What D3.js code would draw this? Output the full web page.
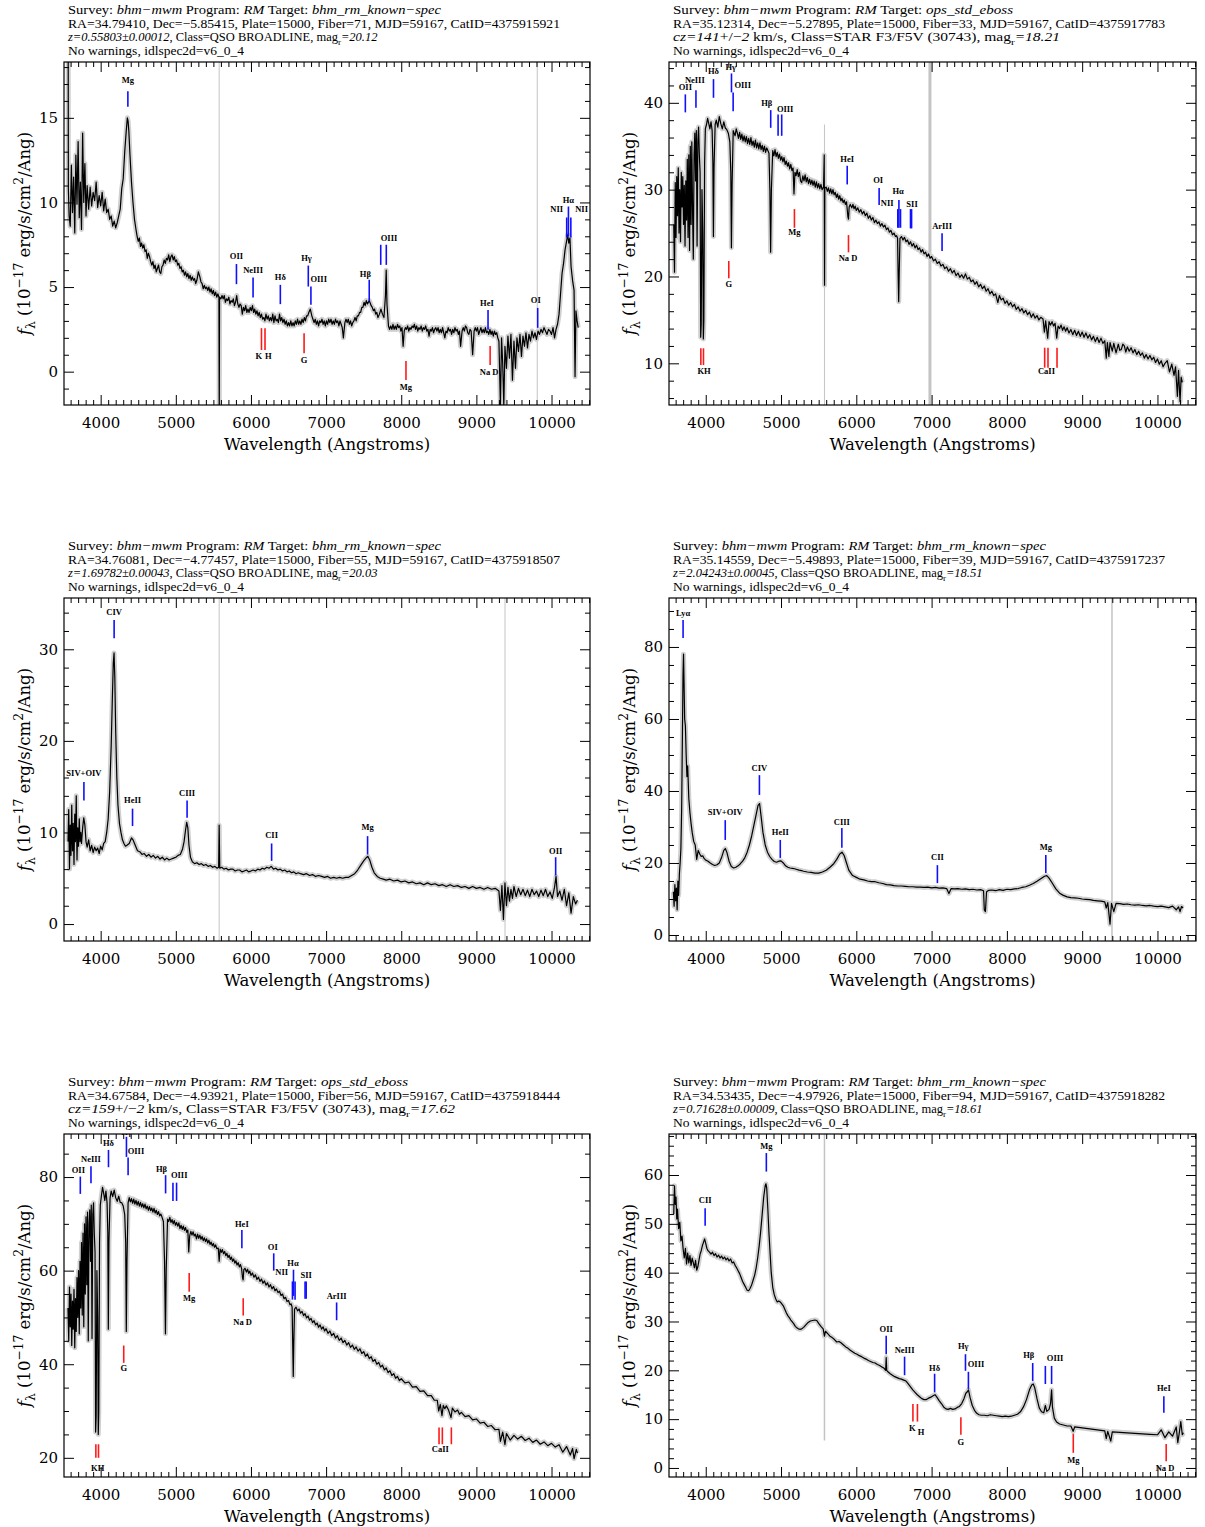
<!DOCTYPE html>
<html><head><meta charset="utf-8">
<script src="https://cdn.jsdelivr.net/npm/d3@7"></script>
<style>
body{margin:0;background:#fff;}
svg{display:block;background:#fff;}
.hdr{font-family:"Liberation Serif",serif;font-size:12.5px;fill:#000;}
.lbl{font-family:"Liberation Serif",serif;font-size:8.5px;font-weight:bold;fill:#000;}
.ax{font-family:"DejaVu Serif",serif;font-size:16.5px;fill:#000;}
</style></head><body>
<svg id="c" width="1205" height="1527"></svg>
<script>
// ---------------- DATA ----------------
const xDomain = [3512, 10512];
const xMajor = [4000, 5000, 6000, 7000, 8000, 9000, 10000];

// Panel 1: QSO z=0.558
const spec1 = [[3566,25],[3570,10.8],[3580,9.2],[3595,8.6],[3610,12.2],[3625,9.4],[3640,11.5],[3655,8.2],[3670,12.8],[3685,9.9],[3700,13.6],[3715,9.1],[3730,11.2],[3745,8.4],[3760,14.1],[3775,10.0],[3790,12.3],[3805,9.2],[3820,11.0],[3840,9.6],[3860,10.9],[3880,9.8],[3900,10.6],[3920,10.1],[3940,11.2],[3960,9.7],[3980,10.4],[4000,9.8],[4020,10.6],[4040,9.5],[4060,10.2],[4080,9.4],[4100,9.6],[4120,9.0],[4140,9.2],[4160,8.6],[4180,8.9],[4200,8.5],[4220,8.8],[4240,9.2],[4260,9.6],[4280,10.8],[4300,11.4],[4320,13.0],[4340,14.2],[4355,15.0],[4365,14.8],[4375,14.2],[4390,12.8],[4410,11.2],[4430,10.0],[4450,9.0],[4470,8.4],[4485,8.0],[4500,7.7],[4515,7.9],[4530,7.4],[4545,7.6],[4560,7.3],[4575,7.5],[4590,7.1],[4605,7.2],[4620,6.7],[4635,7.0],[4650,6.8],[4665,6.5],[4680,6.3],[4695,6.5],[4710,6.1],[4725,6.3],[4740,5.9],[4755,6.1],[4770,6.3],[4785,5.9],[4800,5.8],[4815,6.2],[4830,6.3],[4845,6.6],[4860,6.4],[4875,6.7],[4890,6.6],[4905,6.9],[4920,6.5],[4935,6.8],[4950,6.9],[4965,6.6],[4980,6.8],[4995,6.5],[5010,6.6],[5025,6.3],[5040,6.4],[5055,6.1],[5070,6.2],[5085,5.9],[5100,6.0],[5115,5.7],[5130,5.9],[5145,5.6],[5160,5.8],[5175,5.5],[5190,5.7],[5205,5.4],[5220,5.6],[5235,5.4],[5250,5.5],[5265,5.2],[5280,5.4],[5300,5.9],[5320,5.6],[5335,5.3],[5350,5.2],[5365,4.9],[5380,5.1],[5395,4.9],[5410,5.0],[5425,4.8],[5440,5.0],[5455,4.7],[5470,4.9],[5485,4.6],[5500,4.8],[5515,4.5],[5530,4.7],[5545,4.4],[5560,4.6],[5574,4.4],[5578,-2.5],[5582,4.4],[5600,4.3],[5615,4.5],[5630,4.3],[5645,4.5],[5660,4.1],[5675,4.3],[5690,4.2],[5705,4.4],[5720,4.0],[5735,4.2],[5750,4.1],[5765,4.3],[5780,3.9],[5795,4.1],[5810,4.5],[5825,4.0],[5840,3.8],[5855,4.0],[5870,3.9],[5885,3.4],[5900,3.8],[5915,3.6],[5930,3.9],[5945,3.5],[5960,3.7],[5975,3.5],[5990,3.8],[6005,3.6],[6020,3.9],[6035,3.5],[6050,3.7],[6065,3.4],[6080,3.6],[6095,3.3],[6110,3.5],[6125,3.2],[6140,3.4],[6155,3.1],[6170,3.2],[6185,3.0],[6200,3.4],[6215,3.1],[6230,3.3],[6245,3.0],[6260,3.2],[6275,3.0],[6290,3.4],[6305,2.9],[6320,3.3],[6335,3.0],[6350,3.1],[6365,2.9],[6380,3.4],[6395,3.0],[6410,3.2],[6425,2.9],[6440,3.1],[6455,2.8],[6470,3.0],[6485,2.7],[6500,2.9],[6515,2.7],[6530,3.0],[6545,2.7],[6560,2.9],[6575,2.7],[6590,3.0],[6605,2.8],[6620,3.1],[6635,2.8],[6650,3.0],[6665,2.8],[6680,3.1],[6695,2.9],[6710,3.2],[6725,3.0],[6740,3.3],[6755,3.3],[6770,3.5],[6790,3.7],[6810,3.3],[6825,3.1],[6840,2.9],[6855,3.1],[6870,2.8],[6885,3.0],[6900,2.7],[6915,3.0],[6930,2.9],[6945,3.1],[6960,2.8],[6975,3.0],[6990,2.7],[7005,3.0],[7020,2.8],[7035,3.1],[7050,2.9],[7065,3.1],[7080,2.8],[7095,3.0],[7110,2.8],[7125,3.1],[7140,2.9],[7155,3.0],[7170,2.7],[7185,3.0],[7200,2.8],[7215,2.6],[7230,2.0],[7250,2.9],[7265,3.1],[7280,2.9],[7295,3.1],[7310,2.8],[7325,3.0],[7340,2.7],[7355,2.9],[7370,3.0],[7385,3.2],[7400,3.0],[7415,3.3],[7430,3.3],[7445,3.5],[7460,3.5],[7475,3.8],[7490,3.8],[7505,4.1],[7520,3.9],[7535,4.2],[7550,4.0],[7575,4.2],[7600,3.9],[7615,3.8],[7630,3.6],[7645,3.7],[7660,3.4],[7675,3.5],[7690,3.2],[7710,3.4],[7730,3.7],[7750,3.4],[7770,3.2],[7790,4.5],[7800,6.0],[7810,4.0],[7830,2.7],[7845,2.5],[7860,2.7],[7875,2.5],[7890,2.8],[7905,2.5],[7920,2.7],[7935,2.5],[7950,2.8],[7965,2.6],[7980,2.7],[7995,2.4],[8010,2.6],[8025,1.5],[8040,2.4],[8055,2.6],[8070,2.5],[8085,2.7],[8100,2.4],[8115,2.6],[8130,2.5],[8145,2.7],[8160,2.6],[8175,2.8],[8190,2.5],[8205,2.7],[8220,2.4],[8235,2.6],[8250,2.5],[8265,2.7],[8280,2.4],[8295,2.6],[8310,2.5],[8325,2.7],[8340,2.4],[8355,2.5],[8370,2.1],[8385,2.5],[8400,2.4],[8415,2.6],[8430,2.3],[8445,2.5],[8460,2.6],[8475,2.4],[8490,2.6],[8505,2.3],[8520,2.5],[8535,2.3],[8550,2.6],[8565,2.3],[8580,2.0],[8595,2.4],[8610,2.3],[8625,2.6],[8640,2.4],[8655,2.5],[8670,2.2],[8685,2.5],[8700,2.3],[8715,2.6],[8730,2.4],[8745,2.5],[8760,2.2],[8775,2.4],[8790,1.5],[8810,2.4],[8825,2.6],[8840,2.4],[8855,2.7],[8870,2.6],[8885,2.3],[8900,2.2],[8915,2.5],[8930,2.4],[8950,1.0],[8970,2.4],[8985,2.6],[9000,2.4],[9015,2.6],[9030,2.2],[9045,2.4],[9060,2.6],[9075,2.3],[9090,2.5],[9105,2.3],[9120,2.6],[9135,2.3],[9150,2.4],[9165,2.2],[9180,2.5],[9195,2.2],[9210,2.4],[9225,2.1],[9240,2.4],[9255,2.2],[9270,2.3],[9285,2.0],[9300,1.8],[9320,-2.0],[9335,2.0],[9350,0.5],[9365,-2.0],[9380,1.5],[9400,0.2],[9420,2.1],[9440,0.8],[9460,2.2],[9480,-0.5],[9500,1.8],[9520,0.2],[9540,2.0],[9560,1.2],[9580,2.2],[9600,0.9],[9620,2.1],[9640,1.5],[9660,2.3],[9680,1.4],[9700,2.2],[9720,1.8],[9740,2.4],[9760,2.0],[9780,2.3],[9800,1.9],[9820,2.4],[9840,2.2],[9860,2.5],[9880,2.3],[9900,2.6],[9920,2.4],[9940,2.2],[9960,2.5],[9980,2.4],[10000,2.2],[10020,2.6],[10040,2.0],[10060,2.5],[10080,2.8],[10100,3.4],[10120,4.6],[10140,5.8],[10160,6.4],[10180,7.2],[10200,7.7],[10215,8.1],[10230,7.6],[10245,7.9],[10260,6.2],[10280,5.4],[10300,4.8],[10313,-0.3],[10325,3.6],[10340,3.0],[10355,2.6]];
const lines1 = [["Mg",4362,16.57,15.66,4362,17.08,"e"],["OII",5807,6.36,5.17,5807,6.67,"e"],["NeIII",6028,5.56,4.38,6028,5.82,"e"],["Hδ",6391,5.13,3.99,6391,5.43,"e"],["Hγ",6763,6.27,5.03,6740,6.55,"e"],["OIII",6798,5.03,3.95,6902,5.27,"e"],["Hβ",7574,5.43,4.18,7522,5.62,"e"],["",7727,7.5,6.31,0,0,"e"],["OIII",7801,7.5,6.31,7837,7.75,"e"],["HeI",9155,3.65,2.47,9140,3.91,"e"],["OI",9816,3.77,2.59,9790,4.07,"e"],["NII",10202,9.11,7.93,10068,9.45,"e"],["Hα",10225,9.76,7.99,10225,9.98,"e"],["NII",10257,9.11,7.93,10400,9.45,"e"],["K",6140,2.57,1.28,6106,0.75,"a"],["H",6187,2.57,1.28,6231,0.75,"a"],["G",6707,2.27,1.09,6707,0.5,"a"],["Mg",8063,0.63,-0.49,8063,-1.08,"a"],["Na D",9183,1.52,0.4,9170,-0.2,"a"]];
const sky1 = [[5577,-2,18.3,1],[9810,-2,18.3,1]];
const yDom1 = [-1.97, 18.3], yTicks1 = [0,5,10,15], yMinor1 = 1;

// Panel 2: STAR F3/F5V
const spec2 = [[3575,26.0],[3585,20.5],[3595,30.8],[3605,24.5],[3615,31.5],[3625,27.0],[3635,32.5],[3645,25.0],[3655,30.0],[3665,24.0],[3675,32.0],[3685,28.0],[3695,31.5],[3705,26.0],[3715,30.5],[3725,23.5],[3735,31.0],[3745,26.5],[3755,33.5],[3765,24.5],[3775,34.0],[3785,23.0],[3795,35.0],[3805,26.0],[3815,35.5],[3825,27.5],[3835,22.0],[3845,34.0],[3855,36.5],[3865,31.0],[3875,36.8],[3885,23.5],[3895,35.5],[3905,37.2],[3915,34.0],[3925,32.0],[3933,13.0],[3940,14.5],[3950,30.0],[3960,25.0],[3968,12.8],[3975,15.0],[3985,33.0],[3995,37.0],[4010,37.5],[4025,38.2],[4040,37.6],[4055,37.0],[4070,37.8],[4085,36.8],[4095,33.0],[4102,24.6],[4110,32.5],[4125,37.5],[4140,38.0],[4160,37.2],[4180,38.4],[4200,37.6],[4220,37.0],[4240,37.8],[4260,37.1],[4280,36.9],[4300,36.5],[4320,35.5],[4333,32.0],[4341,23.3],[4350,30.5],[4365,36.8],[4390,36.2],[4405,37.0],[4420,36.5],[4435,35.9],[4450,36.6],[4465,35.8],[4480,36.4],[4495,35.6],[4510,36.2],[4525,35.5],[4540,36.1],[4555,35.3],[4570,35.9],[4585,35.2],[4600,36.0],[4615,35.1],[4630,35.6],[4645,34.9],[4660,35.7],[4675,34.8],[4690,35.4],[4705,34.7],[4720,35.4],[4735,34.6],[4750,35.1],[4765,34.4],[4780,35.0],[4795,34.3],[4810,34.8],[4825,34.5],[4840,34.2],[4852,30.0],[4862,22.8],[4872,30.0],[4890,34.5],[4905,33.9],[4920,34.6],[4935,33.8],[4950,34.3],[4965,33.6],[4980,34.1],[4995,33.4],[5010,33.8],[5025,33.2],[5040,33.7],[5055,32.9],[5070,33.3],[5085,32.7],[5100,33.1],[5115,32.4],[5130,32.9],[5145,32.2],[5160,32.5],[5172,29.5],[5185,32.0],[5200,31.6],[5215,32.3],[5230,31.5],[5245,32.0],[5260,31.0],[5275,30.8],[5290,31.6],[5305,31.0],[5320,31.7],[5335,30.9],[5350,31.4],[5365,30.7],[5380,31.2],[5395,30.6],[5410,31.1],[5425,30.5],[5440,31.0],[5455,30.3],[5470,30.9],[5485,30.2],[5500,30.7],[5515,30.1],[5530,30.6],[5545,30.0],[5565,30.3],[5574,34.0],[5578,19.0],[5582,30.2],[5600,30.3],[5615,29.8],[5630,30.2],[5645,29.6],[5660,30.1],[5675,29.5],[5690,30.0],[5705,29.4],[5720,29.7],[5735,29.1],[5750,29.5],[5765,28.9],[5780,29.3],[5795,28.7],[5810,29.0],[5825,28.5],[5840,28.8],[5855,28.3],[5870,28.6],[5888,26.9],[5896,26.6],[5905,28.0],[5920,28.3],[5940,27.9],[5955,28.3],[5970,27.8],[5985,28.1],[6000,27.6],[6020,27.9],[6040,27.4],[6060,27.7],[6080,27.2],[6100,27.5],[6120,27.0],[6140,27.3],[6160,26.7],[6180,27.0],[6200,26.5],[6220,26.8],[6240,26.2],[6260,26.5],[6280,26.1],[6300,26.3],[6320,25.8],[6340,26.1],[6360,25.7],[6380,25.9],[6400,25.4],[6420,25.6],[6440,25.1],[6460,25.3],[6480,24.8],[6500,25.0],[6520,24.6],[6535,24.7],[6548,24.4],[6556,20.0],[6563,17.1],[6570,20.5],[6580,24.4],[6600,24.6],[6620,24.2],[6640,24.5],[6660,24.0],[6680,24.2],[6700,23.7],[6720,24.0],[6740,23.5],[6760,23.8],[6780,23.3],[6800,23.6],[6820,23.1],[6840,23.3],[6860,22.8],[6880,23.1],[6900,22.6],[6920,22.8],[6940,22.3],[6960,22.6],[6980,22.1],[7000,22.3],[7025,21.8],[7050,22.0],[7075,21.5],[7100,21.7],[7125,21.2],[7150,21.4],[7175,20.9],[7200,21.1],[7225,20.6],[7250,20.9],[7275,20.4],[7300,20.7],[7325,20.1],[7350,20.4],[7375,19.9],[7400,20.2],[7425,19.8],[7450,20.3],[7475,19.7],[7500,19.9],[7525,19.4],[7550,19.6],[7575,19.1],[7600,19.4],[7625,18.8],[7650,19.1],[7675,18.6],[7700,18.9],[7725,18.3],[7750,18.6],[7775,18.0],[7800,18.3],[7825,17.8],[7850,18.0],[7880,17.0],[7900,17.8],[7925,17.3],[7950,17.5],[7975,16.9],[8000,17.2],[8025,16.7],[8050,17.0],[8075,16.5],[8100,16.8],[8125,16.2],[8150,16.5],[8175,16.0],[8200,16.3],[8225,15.8],[8250,16.1],[8275,15.6],[8300,15.9],[8325,15.3],[8350,15.7],[8375,15.2],[8400,15.5],[8425,15.0],[8450,15.3],[8480,15.1],[8498,13.6],[8515,14.9],[8542,12.9],[8560,14.8],[8580,14.4],[8600,14.8],[8620,14.3],[8640,14.6],[8662,12.9],[8680,14.3],[8700,14.0],[8720,14.4],[8740,13.8],[8760,14.2],[8780,13.7],[8800,14.1],[8825,13.5],[8850,13.9],[8875,13.3],[8900,13.8],[8925,13.2],[8950,13.7],[8975,13.1],[9000,13.6],[9025,13.0],[9050,13.5],[9075,12.9],[9100,13.3],[9125,12.7],[9150,13.1],[9175,12.5],[9200,13.0],[9225,12.4],[9250,12.9],[9275,12.3],[9300,12.6],[9320,10.6],[9335,12.4],[9355,10.8],[9370,12.4],[9400,11.4],[9420,12.3],[9450,11.2],[9480,12.2],[9500,11.5],[9520,11.6],[9540,12.2],[9560,12.0],[9580,11.3],[9600,11.9],[9625,11.4],[9650,11.8],[9675,11.2],[9700,11.6],[9725,11.0],[9750,11.4],[9775,10.9],[9800,11.2],[9825,10.6],[9850,11.0],[9875,10.5],[9900,10.9],[9925,10.4],[9950,10.7],[9975,10.1],[10000,10.5],[10025,9.9],[10050,10.3],[10075,9.6],[10100,10.0],[10130,10.3],[10160,9.0],[10190,9.9],[10220,8.6],[10240,9.6],[10265,6.2],[10280,9.2],[10300,5.6],[10315,8.4],[10330,7.8]];
const lines2 = [["OII",3729,40.97,38.9,3729,41.46,"e"],["NeIII",3870,41.46,39.42,3855,42.3,"e"],["Hδ",4103,42.73,40.58,4103,43.27,"e"],["Hγ",4342,43.38,41.2,4333,43.76,"e"],["OIII",4364,41.2,39.04,4491,41.66,"e"],["Hβ",4863,39.16,37.12,4810,39.65,"e"],["",4961,38.66,36.2,0,0,"e"],["OIII",5009,38.66,36.2,5055,38.96,"e"],["HeI",5879,32.75,30.6,5879,33.2,"e"],["OI",6303,30.2,28.22,6290,30.72,"e"],["NII",6551,27.76,25.61,6411,28.14,"e"],["Hα",6566,28.8,25.61,6555,29.46,"e"],["",6587,27.76,25.61,0,0,"e"],["SII",6720,27.76,25.54,6740,28.03,"e"],["",6734,27.76,25.54,0,0,"e"],["ArIII",7139,24.97,22.93,7139,25.46,"e"],["",3935,11.73,9.8,0,0,"a"],["KH",3970,11.73,9.8,3978,8.73,"a"],["G",4306,21.78,19.79,4306,18.82,"a"],["Mg",5178,27.76,25.61,5178,24.77,"a"],["Na D",5896,24.77,22.78,5890,21.78,"a"],["",8502,11.8,9.5,0,0,"a"],["CaII",8546,11.8,9.5,8526,8.73,"a"],["",8666,11.8,9.5,0,0,"a"]];
const sky2 = [[5577,37.5,5.2,1],[6978,5.2,44.7,3]];
const yDom2 = [5.2, 44.7], yTicks2 = [10,20,30,40], yMinor2 = 2;

// Panel 3: QSO z=1.698
const spec3 = [[3565,9.0],[3575,12.5],[3585,6.0],[3595,10.8],[3605,7.5],[3615,13.0],[3625,8.0],[3635,11.0],[3645,6.5],[3655,12.0],[3665,9.0],[3675,14.0],[3685,7.0],[3695,10.5],[3705,8.5],[3715,11.5],[3725,9.0],[3735,10.0],[3745,8.8],[3760,10.5],[3775,11.6],[3790,10.8],[3805,9.0],[3820,8.4],[3840,9.2],[3860,8.0],[3880,8.6],[3900,7.8],[3920,8.4],[3940,8.0],[3960,8.3],[3980,7.7],[4000,8.5],[4020,8.1],[4040,8.8],[4060,9.0],[4080,10.0],[4100,11.5],[4120,14.5],[4140,19.5],[4155,24.5],[4168,28.5],[4178,29.6],[4188,27.0],[4200,21.0],[4215,16.0],[4230,13.0],[4250,11.0],[4270,10.0],[4290,9.2],[4310,8.8],[4330,8.5],[4350,8.6],[4380,8.8],[4410,9.4],[4430,9.2],[4460,8.6],[4490,8.0],[4520,7.9],[4550,7.6],[4580,7.7],[4610,7.4],[4640,7.6],[4670,7.3],[4700,7.5],[4730,7.2],[4760,7.4],[4790,7.1],[4820,7.3],[4850,7.0],[4880,7.2],[4910,7.0],[4940,7.1],[4970,7.2],[5000,7.3],[5030,7.5],[5060,7.6],[5090,8.2],[5110,9.0],[5130,10.3],[5145,11.1],[5160,10.5],[5175,8.6],[5195,7.3],[5220,6.8],[5250,6.6],[5280,6.7],[5310,6.5],[5340,6.6],[5370,6.4],[5400,6.5],[5430,6.3],[5460,6.4],[5490,6.2],[5520,6.3],[5550,6.1],[5570,6.2],[5577,10.8],[5585,6.1],[5610,6.2],[5640,6.0],[5670,6.1],[5700,5.9],[5730,6.0],[5760,6.0],[5790,5.8],[5820,5.9],[5850,5.9],[5880,5.7],[5910,5.8],[5940,5.9],[5970,5.7],[6000,5.8],[6030,5.9],[6060,5.8],[6090,6.0],[6120,5.9],[6150,6.1],[6180,6.0],[6210,6.2],[6240,6.1],[6270,6.3],[6300,6.0],[6330,6.1],[6360,5.9],[6390,6.0],[6420,5.8],[6450,5.9],[6480,5.7],[6510,5.8],[6540,5.6],[6570,5.7],[6600,5.5],[6630,5.6],[6660,5.5],[6700,5.4],[6740,5.5],[6780,5.3],[6820,5.4],[6860,5.2],[6900,5.3],[6940,5.2],[6980,5.1],[7020,5.2],[7060,5.0],[7100,5.1],[7140,5.0],[7180,5.1],[7220,5.0],[7260,5.1],[7300,5.1],[7340,5.3],[7380,5.5],[7420,5.9],[7460,6.4],[7500,6.9],[7530,7.2],[7555,7.4],[7580,7.0],[7610,6.2],[7640,5.6],[7680,5.2],[7720,5.0],[7760,4.9],[7800,4.8],[7850,4.9],[7900,4.7],[7950,4.8],[8000,4.6],[8050,4.7],[8100,4.5],[8150,4.6],[8200,4.4],[8250,4.5],[8300,4.3],[8350,4.5],[8400,4.3],[8450,4.4],[8500,4.2],[8550,4.3],[8600,4.1],[8650,4.3],[8700,4.1],[8750,4.2],[8800,4.0],[8850,4.1],[8900,3.9],[8950,4.1],[9000,3.9],[9050,4.0],[9100,3.8],[9150,4.0],[9200,3.8],[9250,3.9],[9300,3.6],[9320,1.5],[9340,4.2],[9360,0.5],[9380,4.5],[9400,2.0],[9420,4.0],[9440,2.5],[9460,3.8],[9480,2.8],[9500,4.1],[9530,3.0],[9560,3.9],[9590,3.2],[9620,3.8],[9650,3.1],[9680,3.7],[9710,3.0],[9740,3.8],[9770,3.2],[9800,3.6],[9830,3.0],[9860,3.7],[9890,3.1],[9920,3.8],[9950,3.0],[9980,3.5],[10010,2.8],[10040,4.0],[10060,5.2],[10080,3.0],[10110,3.6],[10140,2.6],[10170,3.8],[10200,2.0],[10230,3.4],[10260,1.2],[10290,3.0],[10320,2.2],[10345,2.6]];
const lines3 = [["SIV+OIV",3777,15.5,13.5,3777,16.2,"e"],["CIV",4179,33.2,31.2,4179,33.7,"e"],["HeII",4424,12.6,10.7,4424,13.2,"e"],["CIII",5150,13.5,11.6,5150,14.0,"e"],["CII",6275,8.8,6.9,6275,9.4,"e"],["Mg",7552,9.6,7.6,7552,10.3,"e"],["OII",10055,7.3,5.3,10055,7.7,"e"]];
const sky3 = [[5577,-1.85,35.6,1],[9381,-1.85,35.6,1]];
const yDom3 = [-1.85, 35.6], yTicks3 = [0,10,20,30], yMinor3 = 2;

// Panel 4: QSO z=2.042
const spec4 = [[3570,12.0],[3580,8.0],[3590,14.0],[3600,9.5],[3610,13.0],[3620,7.0],[3630,15.0],[3640,11.0],[3650,17.0],[3660,20.0],[3670,24.0],[3680,35.0],[3690,55.0],[3698,72.0],[3705,78.0],[3712,70.0],[3720,60.0],[3730,58.0],[3740,50.0],[3750,44.0],[3760,47.0],[3775,38.0],[3790,34.0],[3805,31.0],[3820,28.5],[3840,26.0],[3860,25.0],[3880,21.0],[3900,23.5],[3920,22.5],[3940,21.8],[3960,22.0],[3980,21.2],[4000,20.8],[4030,20.5],[4060,20.0],[4090,19.6],[4120,19.3],[4150,19.5],[4180,20.0],[4210,21.5],[4240,23.5],[4260,24.0],[4280,23.0],[4310,20.5],[4340,19.0],[4370,18.6],[4400,18.8],[4430,19.2],[4460,19.8],[4490,20.5],[4520,21.5],[4550,23.0],[4580,25.0],[4610,27.5],[4640,30.5],[4670,33.5],[4695,36.0],[4715,36.5],[4735,33.0],[4760,28.5],[4790,25.0],[4820,23.0],[4850,21.8],[4880,21.0],[4910,20.4],[4940,20.2],[4970,20.5],[5000,20.6],[5030,20.0],[5060,19.2],[5090,18.8],[5120,18.6],[5150,18.5],[5180,18.4],[5210,18.2],[5240,18.0],[5270,17.9],[5300,17.7],[5350,17.5],[5400,17.4],[5450,17.2],[5500,17.2],[5550,17.5],[5600,18.0],[5650,18.8],[5700,19.8],[5740,21.0],[5780,22.5],[5810,23.0],[5840,22.0],[5870,20.0],[5900,18.0],[5950,16.5],[6000,16.0],[6050,15.5],[6100,15.3],[6150,15.0],[6200,14.8],[6250,14.8],[6300,14.5],[6350,14.3],[6400,14.0],[6450,13.9],[6500,13.7],[6550,13.6],[6600,13.6],[6650,13.5],[6700,13.4],[6750,13.4],[6800,13.3],[6850,13.3],[6900,13.2],[6950,13.3],[7000,13.1],[7050,13.2],[7100,13.0],[7150,13.1],[7200,12.9],[7230,11.5],[7260,12.9],[7300,12.8],[7350,12.9],[7400,12.7],[7450,12.8],[7500,12.6],[7550,12.7],[7600,12.5],[7650,12.6],[7690,12.3],[7700,7.0],[7715,6.5],[7730,12.0],[7760,12.4],[7800,12.5],[7850,12.3],[7900,12.6],[7950,12.4],[8000,12.7],[8050,12.6],[8100,12.8],[8150,12.9],[8200,13.2],[8250,13.4],[8300,13.8],[8350,14.3],[8400,14.9],[8450,15.6],[8500,16.3],[8530,16.5],[8560,15.8],[8600,14.5],[8650,12.8],[8700,11.6],[8750,11.0],[8800,10.6],[8850,10.4],[8900,10.3],[8950,10.2],[9000,10.0],[9050,9.9],[9100,9.8],[9150,9.6],[9200,9.5],[9250,9.4],[9300,9.2],[9320,7.5],[9340,9.0],[9370,3.0],[9390,8.8],[9420,6.5],[9450,8.8],[9500,8.7],[9550,8.5],[9600,8.6],[9650,8.4],[9700,8.3],[9750,8.4],[9800,8.2],[9850,8.1],[9900,8.2],[9950,8.0],[10000,7.9],[10050,8.0],[10100,7.8],[10150,7.6],[10200,8.0],[10250,7.0],[10280,7.8],[10300,6.5],[10320,7.9],[10340,7.5]];
const lines4 = [["Lyα",3699,87.5,82.5,3699,88.6,"e"],["SIV+OIV",4259,31.9,26.4,4259,33.3,"e"],["CIV",4713,44.4,38.9,4713,45.6,"e"],["HeII",4990,26.4,21.4,4990,27.8,"e"],["CIII",5808,29.7,24.2,5808,30.6,"e"],["CII",7077,19.4,14.4,7077,20.8,"e"],["Mg",8517,22.2,17.2,8517,23.6,"e"]];
const sky4 = [[9396,-1.67,93.6,1.5]];
const yDom4 = [-1.67, 93.6], yTicks4 = [0,20,40,60,80], yMinor4 = 5;

// Panel 5: STAR F3/F5V
const spec5 = [[3565,52.0],[3575,45.0],[3585,56.5],[3595,48.0],[3605,55.0],[3615,44.0],[3625,53.5],[3635,47.5],[3645,56.0],[3655,43.5],[3665,54.0],[3675,47.0],[3685,58.5],[3695,50.0],[3705,60.0],[3715,46.5],[3725,62.0],[3735,52.0],[3745,66.0],[3755,50.5],[3765,68.0],[3775,48.0],[3785,70.0],[3795,55.0],[3805,71.5],[3815,57.0],[3825,72.5],[3835,45.0],[3845,70.0],[3855,73.0],[3865,62.0],[3875,74.0],[3885,45.5],[3895,72.0],[3905,74.5],[3915,68.0],[3925,64.0],[3933,25.5],[3940,29.0],[3950,60.0],[3960,50.0],[3968,25.0],[3975,30.0],[3985,66.0],[3995,74.0],[4010,76.0],[4025,77.8],[4040,76.5],[4055,75.0],[4070,77.0],[4085,74.5],[4095,68.0],[4102,47.5],[4110,66.0],[4125,75.5],[4140,77.0],[4160,75.8],[4180,77.2],[4200,75.6],[4220,74.8],[4240,75.9],[4260,74.6],[4280,74.5],[4300,73.8],[4320,72.0],[4333,66.0],[4341,47.0],[4350,62.0],[4365,74.5],[4380,75.6],[4395,74.7],[4410,75.4],[4425,74.4],[4440,75.3],[4455,74.2],[4470,75.0],[4485,74.0],[4500,74.8],[4515,73.8],[4530,74.6],[4545,73.6],[4560,74.3],[4575,73.4],[4590,74.2],[4605,73.2],[4620,73.8],[4635,72.9],[4650,73.7],[4665,72.8],[4680,73.4],[4695,72.5],[4710,73.3],[4725,72.3],[4740,72.9],[4755,72.0],[4770,72.6],[4785,71.7],[4800,72.1],[4815,71.5],[4835,70.5],[4850,62.0],[4862,46.5],[4872,60.0],[4890,71.0],[4905,70.5],[4920,71.4],[4935,70.3],[4950,70.9],[4965,70.0],[4980,70.7],[4995,69.7],[5010,70.3],[5025,69.5],[5040,70.2],[5055,69.0],[5070,69.7],[5085,68.8],[5100,69.5],[5115,68.6],[5130,69.2],[5145,68.2],[5160,68.7],[5172,64.0],[5185,67.5],[5200,68.4],[5215,67.6],[5230,68.3],[5245,67.4],[5260,67.8],[5275,66.8],[5290,67.8],[5305,66.9],[5320,67.6],[5335,66.7],[5350,67.3],[5365,66.4],[5380,67.0],[5395,66.2],[5410,66.8],[5425,65.9],[5440,66.5],[5455,65.6],[5470,66.1],[5485,65.3],[5500,65.8],[5515,65.0],[5530,65.5],[5545,64.7],[5565,64.8],[5577,62.0],[5590,64.6],[5605,63.9],[5620,64.5],[5635,63.6],[5650,64.1],[5665,63.2],[5680,63.7],[5695,62.8],[5710,63.3],[5725,62.4],[5740,62.9],[5755,62.0],[5770,62.5],[5785,61.6],[5800,62.1],[5815,61.2],[5830,61.7],[5845,60.8],[5860,61.3],[5875,60.5],[5888,58.5],[5896,58.0],[5905,60.2],[5920,60.5],[5940,59.7],[5955,60.3],[5970,59.4],[5985,59.9],[6000,59.0],[6020,59.5],[6040,58.6],[6060,59.1],[6080,58.1],[6100,58.6],[6120,57.7],[6140,58.2],[6160,57.3],[6180,57.8],[6200,56.9],[6220,57.4],[6240,56.5],[6260,57.0],[6280,56.1],[6300,56.6],[6320,55.7],[6340,56.1],[6360,55.3],[6380,55.6],[6400,54.7],[6420,55.0],[6440,54.0],[6460,54.3],[6480,53.4],[6500,53.6],[6520,52.7],[6535,52.9],[6548,52.2],[6556,44.0],[6563,37.4],[6570,44.5],[6580,51.8],[6600,52.2],[6620,51.4],[6640,51.8],[6660,50.9],[6680,51.3],[6700,50.4],[6720,50.8],[6740,49.9],[6760,50.3],[6780,49.4],[6800,49.8],[6820,48.9],[6840,49.3],[6860,48.4],[6880,48.8],[6900,47.9],[6920,48.4],[6940,47.5],[6960,48.0],[6980,47.1],[7000,47.6],[7025,46.6],[7050,47.1],[7075,46.1],[7100,46.6],[7125,45.6],[7150,46.1],[7175,45.1],[7200,45.6],[7225,44.6],[7250,45.1],[7275,44.1],[7300,44.6],[7325,43.6],[7350,44.1],[7375,43.2],[7400,43.7],[7425,42.8],[7450,43.3],[7475,42.3],[7500,42.7],[7525,41.7],[7550,42.2],[7575,41.2],[7600,41.6],[7625,40.6],[7650,41.0],[7675,40.0],[7700,40.4],[7725,39.4],[7750,39.8],[7775,38.8],[7800,39.2],[7825,38.2],[7850,38.6],[7875,37.6],[7900,38.0],[7925,37.0],[7950,37.4],[7975,36.5],[8000,36.9],[8050,36.0],[8100,36.2],[8150,35.1],[8200,35.2],[8250,34.2],[8300,34.3],[8350,33.3],[8400,33.3],[8440,32.3],[8480,32.3],[8498,30.0],[8520,31.4],[8542,29.0],[8560,31.2],[8580,30.5],[8600,31.1],[8630,30.2],[8662,28.6],[8680,30.6],[8715,29.8],[8750,30.2],[8775,29.3],[8800,29.7],[8850,28.8],[8900,29.0],[8950,28.1],[9000,28.3],[9050,27.4],[9100,27.6],[9150,26.7],[9200,26.9],[9250,26.0],[9300,26.1],[9320,23.5],[9350,25.5],[9380,22.8],[9400,25.2],[9450,23.8],[9500,24.8],[9550,24.0],[9600,24.6],[9650,23.7],[9700,24.2],[9750,23.3],[9800,23.8],[9850,22.9],[9900,23.4],[9950,22.6],[10000,23.1],[10050,22.3],[10100,22.8],[10150,21.2],[10200,22.4],[10250,20.6],[10280,22.0],[10300,19.8],[10330,21.8],[10345,21.0]];
const lines5 = [["OII",3729,80.1,76.4,3703,80.9,"e"],["NeIII",3871,82.3,78.7,3871,83.3,"e"],["Hδ",4104,85.8,82.1,4104,86.6,"e"],["Hγ",4343,88.6,84.3,4343,89.0,"e"],["OIII",4365,84.2,80.4,4470,84.9,"e"],["Hβ",4864,80.4,76.5,4810,81.1,"e"],["",4962,78.8,74.9,0,0,"e"],["OIII",5010,78.8,74.9,5045,79.7,"e"],["HeI",5879,68.7,64.8,5879,69.4,"e"],["OI",6303,63.7,60.0,6290,64.4,"e"],["NII",6552,57.7,53.8,6409,59.1,"e"],["Hα",6566,60.2,54.6,6560,61.0,"e"],["",6587,57.7,53.8,0,0,"e"],["SII",6720,57.7,54.0,6735,58.4,"e"],["",6735,57.7,54.0,0,0,"e"],["ArIII",7140,53.2,49.4,7140,53.9,"e"],["",3936,22.9,20.0,0,0,"a"],["KH",3971,22.9,20.0,3960,17.2,"a"],["G",4307,44.0,40.3,4307,38.5,"a"],["Mg",5178,59.5,55.5,5178,53.6,"a"],["Na D",5897,54.1,50.4,5890,48.4,"a"],["",8503,26.5,22.9,0,0,"a"],["CaII",8547,26.5,22.9,8520,21.2,"a"],["",8667,26.5,22.9,0,0,"a"]];
const sky5 = [];
const yDom5 = [15.9, 89.2], yTicks5 = [20,40,60,80], yMinor5 = 5;

// Panel 6: QSO z=0.716
const spec6 = [[3575,52.0],[3585,57.8],[3595,54.0],[3605,55.5],[3615,51.0],[3625,53.0],[3640,49.0],[3655,50.3],[3670,46.5],[3685,47.5],[3700,44.8],[3715,43.0],[3730,45.0],[3745,41.8],[3760,44.0],[3775,42.0],[3790,43.5],[3805,41.5],[3820,43.0],[3835,42.0],[3850,41.0],[3865,42.5],[3880,40.5],[3895,41.2],[3910,42.5],[3925,43.8],[3940,44.5],[3955,45.5],[3970,46.2],[3985,46.9],[4000,46.0],[4015,45.0],[4030,44.5],[4050,44.2],[4070,43.8],[4090,44.2],[4110,43.5],[4130,43.9],[4150,43.2],[4170,43.6],[4190,43.0],[4210,43.4],[4230,42.8],[4250,43.2],[4270,42.6],[4290,43.0],[4310,42.4],[4330,42.8],[4350,42.0],[4370,42.2],[4390,41.5],[4410,41.0],[4430,40.4],[4450,39.8],[4470,39.0],[4490,38.2],[4510,37.6],[4530,37.0],[4550,36.4],[4570,36.3],[4590,36.8],[4610,37.5],[4630,38.5],[4650,39.5],[4670,41.0],[4690,43.0],[4710,45.5],[4730,48.5],[4750,52.0],[4770,55.5],[4790,57.8],[4800,58.2],[4810,57.3],[4825,53.0],[4840,48.0],[4855,44.0],[4870,40.0],[4890,37.0],[4910,35.5],[4930,34.6],[4950,34.0],[4970,34.2],[4990,34.0],[5010,33.6],[5030,33.2],[5050,32.5],[5070,31.8],[5090,31.2],[5110,30.8],[5130,30.3],[5150,29.9],[5170,29.5],[5190,29.0],[5210,28.7],[5230,28.5],[5250,28.4],[5275,28.5],[5300,28.8],[5330,29.3],[5360,29.8],[5390,30.1],[5420,30.2],[5450,30.3],[5475,30.2],[5500,29.6],[5530,29.0],[5560,28.5],[5577,27.0],[5590,28.0],[5620,27.5],[5650,27.0],[5680,26.7],[5710,26.3],[5740,25.8],[5770,25.9],[5800,25.6],[5830,25.2],[5860,24.8],[5890,24.5],[5920,24.1],[5950,23.8],[5980,23.5],[6010,23.3],[6040,23.0],[6070,22.8],[6100,22.5],[6130,22.3],[6160,22.0],[6190,21.8],[6220,21.6],[6250,21.5],[6280,21.2],[6310,21.0],[6340,20.7],[6370,20.4],[6390,20.0],[6397,22.6],[6404,20.0],[6420,19.7],[6450,19.3],[6480,19.0],[6510,18.7],[6540,18.5],[6570,18.3],[6600,18.2],[6630,18.0],[6660,17.8],[6690,17.2],[6720,16.6],[6750,16.0],[6780,15.5],[6810,15.0],[6840,14.6],[6870,14.2],[6900,14.0],[6930,14.0],[6960,14.3],[6990,14.5],[7020,14.8],[7045,15.0],[7070,14.5],[7100,13.8],[7130,13.2],[7160,12.5],[7190,12.1],[7220,12.0],[7250,12.2],[7280,12.0],[7310,12.1],[7340,12.4],[7370,12.6],[7400,13.2],[7430,14.2],[7455,15.3],[7475,15.6],[7490,16.0],[7510,14.5],[7540,12.8],[7570,11.8],[7600,11.2],[7630,10.9],[7660,10.8],[7700,10.8],[7740,10.7],[7780,10.9],[7820,10.8],[7860,10.7],[7900,10.6],[7940,10.5],[7980,10.6],[8020,10.5],[8060,10.6],[8100,10.8],[8140,11.0],[8180,11.5],[8220,12.5],[8260,14.0],[8300,16.0],[8330,17.0],[8350,17.2],[8370,16.4],[8400,14.2],[8430,12.3],[8460,11.5],[8490,11.3],[8511,12.8],[8530,11.6],[8560,12.0],[8580,13.2],[8594,16.0],[8605,12.5],[8630,10.2],[8660,9.4],[8700,9.0],[8750,8.8],[8800,8.6],[8850,8.6],[8880,7.5],[8900,8.4],[8950,8.3],[9000,8.2],[9100,8.0],[9200,7.8],[9300,7.6],[9320,6.0],[9340,7.5],[9380,5.5],[9400,7.4],[9500,7.3],[9600,7.2],[9700,7.1],[9800,7.0],[9900,6.9],[10000,6.8],[10050,7.8],[10100,6.2],[10150,7.4],[10200,6.5],[10250,8.4],[10270,5.2],[10290,7.2],[10310,9.5],[10330,6.8],[10345,7.2]];
const lines6 = [["CII",3992,53.2,49.6,3992,54.3,"e"],["Mg",4805,64.5,60.7,4805,65.3,"e"],["OII",6397,27.1,23.3,6397,27.9,"e"],["NeIII",6641,22.8,19.0,6641,23.6,"e"],["Hδ",7040,19.3,15.5,7040,19.9,"e"],["Hγ",7450,23.3,19.9,7420,24.4,"e"],["OIII",7489,19.7,16.2,7590,20.7,"e"],["Hβ",8343,21.5,17.8,8290,22.5,"e"],["",8511,20.9,17.2,0,0,"e"],["OIII",8594,20.9,17.2,8640,21.9,"e"],["HeI",10085,14.7,11.3,10085,15.8,"e"],["K",6752,13.1,9.5,6743,7.6,"a"],["H",6812,13.1,9.5,6859,6.8,"a"],["G",7389,10.4,6.8,7389,4.7,"a"],["Mg",8882,7.0,3.1,8882,1.0,"a"],["Na D",10116,4.9,1.4,10100,-0.6,"a"]];
const sky6 = [[5577,5.6,68.4,1.5]];
const yDom6 = [-1.85, 68.4], yTicks6 = [0,10,20,30,40,50,60], yMinor6 = 2;

// Header lines: [text, style] segments
const hdr1 = [[["Survey: ",""],["bhm−mwm","i"],[" Program: ",""],["RM","i"],[" Target: ",""],["bhm_rm_known−spec","i"]],[["RA=34.79410, Dec=−5.85415, Plate=15000, Fiber=71, MJD=59167, CatID=4375915921",""]],[["z=0.55803±0.00012","i"],[", Class=QSO BROADLINE, mag",""],["r","sub"],["=20.12","i"]],[["No warnings, idlspec2d=v6_0_4",""]]];
const hdr2 = [[["Survey: ",""],["bhm−mwm","i"],[" Program: ",""],["RM","i"],[" Target: ",""],["ops_std_eboss","i"]],[["RA=35.12314, Dec=−5.27895, Plate=15000, Fiber=33, MJD=59167, CatID=4375917783",""]],[["cz=141","i"],["+/−",""],["2","i"],[" km/s, Class=STAR F3/F5V (30743), mag",""],["r","sub"],["=18.21","i"]],[["No warnings, idlspec2d=v6_0_4",""]]];
const hdr3 = [[["Survey: ",""],["bhm−mwm","i"],[" Program: ",""],["RM","i"],[" Target: ",""],["bhm_rm_known−spec","i"]],[["RA=34.76081, Dec=−4.77457, Plate=15000, Fiber=55, MJD=59167, CatID=4375918507",""]],[["z=1.69782±0.00043","i"],[", Class=QSO BROADLINE, mag",""],["r","sub"],["=20.03","i"]],[["No warnings, idlspec2d=v6_0_4",""]]];
const hdr4 = [[["Survey: ",""],["bhm−mwm","i"],[" Program: ",""],["RM","i"],[" Target: ",""],["bhm_rm_known−spec","i"]],[["RA=35.14559, Dec=−5.49893, Plate=15000, Fiber=39, MJD=59167, CatID=4375917237",""]],[["z=2.04243±0.00045","i"],[", Class=QSO BROADLINE, mag",""],["r","sub"],["=18.51","i"]],[["No warnings, idlspec2d=v6_0_4",""]]];
const hdr5 = [[["Survey: ",""],["bhm−mwm","i"],[" Program: ",""],["RM","i"],[" Target: ",""],["ops_std_eboss","i"]],[["RA=34.67584, Dec=−4.93921, Plate=15000, Fiber=56, MJD=59167, CatID=4375918444",""]],[["cz=159","i"],["+/−",""],["2","i"],[" km/s, Class=STAR F3/F5V (30743), mag",""],["r","sub"],["=17.62","i"]],[["No warnings, idlspec2d=v6_0_4",""]]];
const hdr6 = [[["Survey: ",""],["bhm−mwm","i"],[" Program: ",""],["RM","i"],[" Target: ",""],["bhm_rm_known−spec","i"]],[["RA=34.53435, Dec=−4.97926, Plate=15000, Fiber=94, MJD=59167, CatID=4375918282",""]],[["z=0.71628±0.00009","i"],[", Class=QSO BROADLINE, mag",""],["r","sub"],["=18.61","i"]],[["No warnings, idlspec2d=v6_0_4",""]]];

const xTitle = "Wavelength (Angstroms)";
const yTitle = [["f","i"],["λ","sub"],[" (10",""],["−17","sup"],[" erg/s/cm",""],["2","sup"],["/Ang)",""]];

// ---------------- LAYOUT ----------------
const colX = [[64, 590], [669, 1196]];
const rowY = [[62, 405], [598, 941], [1134, 1477]];
// measured header line widths in the reference (px); null = natural width
const hdrWidthQSO = [373, 492, null, 176];
const hdrWidthSTAR = [340, 492, 387, 176];

const panels = [
  {c:0,r:0,spec:spec1,lines:lines1,sky:sky1,yDom:yDom1,yTicks:yTicks1,yMinor:yMinor1,hdr:hdr1,hw:hdrWidthQSO},
  {c:1,r:0,spec:spec2,lines:lines2,sky:sky2,yDom:yDom2,yTicks:yTicks2,yMinor:yMinor2,hdr:hdr2,hw:hdrWidthSTAR},
  {c:0,r:1,spec:spec3,lines:lines3,sky:sky3,yDom:yDom3,yTicks:yTicks3,yMinor:yMinor3,hdr:hdr3,hw:hdrWidthQSO},
  {c:1,r:1,spec:spec4,lines:lines4,sky:sky4,yDom:yDom4,yTicks:yTicks4,yMinor:yMinor4,hdr:hdr4,hw:hdrWidthQSO},
  {c:0,r:2,spec:spec5,lines:lines5,sky:sky5,yDom:yDom5,yTicks:yTicks5,yMinor:yMinor5,hdr:hdr5,hw:hdrWidthSTAR},
  {c:1,r:2,spec:spec6,lines:lines6,sky:sky6,yDom:yDom6,yTicks:yTicks6,yMinor:yMinor6,hdr:hdr6,hw:hdrWidthQSO}
];

const svg = d3.select("#c");
svg.append("rect").attr("width",1205).attr("height",1527).attr("fill","#fff");

function addSegs(textSel, segs, fs){
  let shift = 0;
  segs.forEach(([t, s]) => {
    const ts = textSel.append("tspan").text(t);
    let target = 0;
    if (s === "i") ts.attr("font-style","italic");
    if (s === "sub") { target = 0.28*fs; ts.attr("font-size", (fs*0.72)+"px"); }
    if (s === "sup") { target = -0.42*fs; ts.attr("font-size", (fs*0.72)+"px"); }
    if (target !== shift) { ts.attr("dy", target - shift); shift = target; }
  });
}

panels.forEach((p, i) => {
  const [x0, x1] = colX[p.c];
  const [y0, y1] = rowY[p.r];
  const w = x1 - x0, h = y1 - y0;
  const x = d3.scaleLinear().domain(xDomain).range([0, w]);
  const y = d3.scaleLinear().domain(p.yDom).range([h, 0]);
  const g = svg.append("g").attr("transform", `translate(${x0},${y0})`);

  // header
  p.hdr.forEach((segs, k) => {
    const t = svg.append("text").attr("class","hdr")
      .attr("x", x0 + 4).attr("y", y0 - 48 + k*13.6);
    if (p.hw[k]) t.attr("textLength", p.hw[k]).attr("lengthAdjust","spacingAndGlyphs");
    addSegs(t, segs, 12.5);
  });

  const clipId = "clip" + i;
  g.append("clipPath").attr("id", clipId).append("rect").attr("width", w).attr("height", h);
  const inner = g.append("g").attr("clip-path", `url(#${clipId})`);

  // grey sky / bad pixel lines
  p.sky.forEach(s => {
    inner.append("line").attr("x1", x(s[0])).attr("x2", x(s[0]))
      .attr("y1", y(s[1])).attr("y2", y(s[2]))
      .attr("stroke", "#c4c4c4").attr("stroke-width", s[3]);
  });

  const line = d3.line().x(d => x(d[0])).y(d => y(d[1]));
  inner.append("path").datum(p.spec).attr("d", line)
    .attr("fill","none").attr("stroke","#d0d0d0").attr("stroke-width",5).attr("stroke-linejoin","round");
  inner.append("path").datum(p.spec).attr("d", line)
    .attr("fill","none").attr("stroke","#000").attr("stroke-width",1.2).attr("stroke-linejoin","round");

  // line markers (clipped to the plot box like the reference)
  p.lines.forEach(l => {
    const [name, lam, fT, fB, tl, tf, kind] = l;
    const col = kind === "e" ? "#1010ff" : "#ff1a1a";
    inner.append("line").attr("x1", x(lam)).attr("x2", x(lam))
      .attr("y1", y(fT)).attr("y2", y(fB)).attr("stroke", col).attr("stroke-width", 1.6);
    if (name) inner.append("text").attr("class","lbl").attr("x", x(tl)).attr("y", y(tf))
      .attr("text-anchor","middle").text(name);
  });

  // axes
  const xMinor = d3.range(3600, 10501, 100).filter(v => v % 1000 !== 0);
  const yMinorVals = d3.range(Math.ceil(p.yDom[0]/p.yMinor)*p.yMinor, p.yDom[1], p.yMinor).filter(v => !p.yTicks.includes(v));
  const style = sel => { sel.select(".domain").remove(); sel.attr("font-family","DejaVu Serif").attr("font-size",15);
    sel.selectAll("line").attr("stroke","#000").attr("stroke-width",1); sel.selectAll("text").attr("fill","#000"); };

  g.append("g").attr("transform",`translate(0,${h})`).call(d3.axisBottom(x).tickValues(xMajor).tickSizeInner(-10).tickSizeOuter(0).tickPadding(12).tickFormat(d3.format("d"))).call(style);
  g.append("g").attr("transform",`translate(0,${h})`).call(d3.axisBottom(x).tickValues(xMinor).tickSizeInner(-5).tickSizeOuter(0).tickFormat("")).call(style);
  g.append("g").call(d3.axisTop(x).tickValues(xMajor).tickSizeInner(-10).tickSizeOuter(0).tickFormat("")).call(style);
  g.append("g").call(d3.axisTop(x).tickValues(xMinor).tickSizeInner(-5).tickSizeOuter(0).tickFormat("")).call(style);
  g.append("g").call(d3.axisLeft(y).tickValues(p.yTicks).tickSizeInner(-10).tickSizeOuter(0).tickPadding(6).tickFormat(d3.format("d"))).call(style);
  g.append("g").call(d3.axisLeft(y).tickValues(yMinorVals).tickSizeInner(-5).tickSizeOuter(0).tickFormat("")).call(style);
  g.append("g").attr("transform",`translate(${w},0)`).call(d3.axisRight(y).tickValues(p.yTicks).tickSizeInner(-10).tickSizeOuter(0).tickFormat("")).call(style);
  g.append("g").attr("transform",`translate(${w},0)`).call(d3.axisRight(y).tickValues(yMinorVals).tickSizeInner(-5).tickSizeOuter(0).tickFormat("")).call(style);

  g.append("rect").attr("width", w).attr("height", h).attr("fill","none").attr("stroke","#000").attr("stroke-width",1.2);

  // titles
  g.append("text").attr("class","ax").attr("x", w/2).attr("y", h + 45).attr("text-anchor","middle").text(xTitle);
  const yt = g.append("text").attr("class","ax").attr("text-anchor","middle").attr("font-size","17px")
    .attr("transform", `translate(${-34},${h/2}) rotate(-90)`);
  addSegs(yt, yTitle, 17);
});
</script>
</body></html>
